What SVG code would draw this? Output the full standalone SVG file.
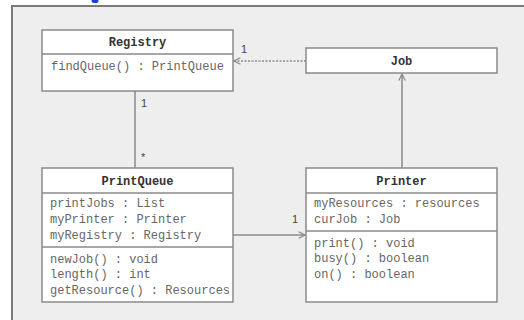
<svg xmlns="http://www.w3.org/2000/svg" width="524" height="320" viewBox="0 0 524 320">
<defs>
<style>
.box{fill:#ffffff;stroke:#8a8a8a;stroke-width:1.5}
.div{stroke:#8a8a8a;stroke-width:1.5}
.hd{font-family:"Liberation Mono",monospace;font-weight:bold;font-size:12px;fill:#333;text-anchor:middle}
.m{font-family:"Liberation Mono",monospace;font-size:12px;fill:#666}
.lbl{font-family:"Liberation Sans",Arial,sans-serif;font-size:11px;fill:#444}
.ln{stroke:#8a8a8a;stroke-width:1.5;fill:none}
</style>
<marker id="oa" viewBox="0 0 10 10" refX="9" refY="5" markerWidth="8" markerHeight="8" markerUnits="userSpaceOnUse" orient="auto">
<path d="M1,1 L9,5 L1,9" fill="none" stroke="#8a8a8a" stroke-width="1.5"/>
</marker>
</defs>
<rect x="0" y="0" width="524" height="320" fill="#ffffff"/>
<ellipse cx="95" cy="1" rx="3.5" ry="2" fill="#1a3fd8"/>
<rect x="12" y="6" width="520" height="320" fill="#eeeeee" stroke="#7a7a7a" stroke-width="2"/>
<g id="connectors">
<line class="ln" x1="306" y1="61" x2="234" y2="61" stroke-dasharray="2,1.5" marker-end="url(#oa)"/>
<line class="ln" x1="135" y1="91" x2="135" y2="168"/>
<line class="ln" x1="233" y1="235" x2="305" y2="235" marker-end="url(#oa)"/>
<line class="ln" x1="402" y1="168" x2="402" y2="74" marker-end="url(#oa)"/>
<text class="lbl" x="241" y="53">1</text>
<text class="lbl" x="141" y="107">1</text>
<text class="lbl" x="141" y="161">*</text>
<text class="lbl" x="292" y="223">1</text>
</g>
<g id="Registry">
<rect class="box" x="42" y="30" width="191" height="61"/>
<line class="div" x1="42" y1="54" x2="233" y2="54"/>
<text class="hd" x="137.5" y="46">Registry</text>
<text class="m" x="51" y="70">findQueue() : PrintQueue</text>
</g>
<g id="Job">
<rect class="box" x="306" y="48" width="191" height="25"/>
<text class="hd" x="401.5" y="65">Job</text>
</g>
<g id="PrintQueue">
<rect class="box" x="42" y="168" width="191" height="134"/>
<line class="div" x1="42" y1="193" x2="233" y2="193"/>
<line class="div" x1="42" y1="247" x2="233" y2="247"/>
<text class="hd" x="137.5" y="185">PrintQueue</text>
<text class="m" x="50" y="207">printJobs : List</text>
<text class="m" x="50" y="223">myPrinter : Printer</text>
<text class="m" x="50" y="239">myRegistry : Registry</text>
<text class="m" x="50" y="263">newJob() : void</text>
<text class="m" x="50" y="278">length() : int</text>
<text class="m" x="50" y="294">getResource() : Resources</text>
</g>
<g id="Printer">
<rect class="box" x="306" y="168" width="191" height="134"/>
<line class="div" x1="306" y1="193" x2="497" y2="193"/>
<line class="div" x1="306" y1="231" x2="497" y2="231"/>
<text class="hd" x="401.5" y="185">Printer</text>
<text class="m" x="314" y="207">myResources : resources</text>
<text class="m" x="314" y="223">curJob : Job</text>
<text class="m" x="314" y="247">print() : void</text>
<text class="m" x="314" y="262">busy() : boolean</text>
<text class="m" x="314" y="278">on() : boolean</text>
</g>
</svg>
